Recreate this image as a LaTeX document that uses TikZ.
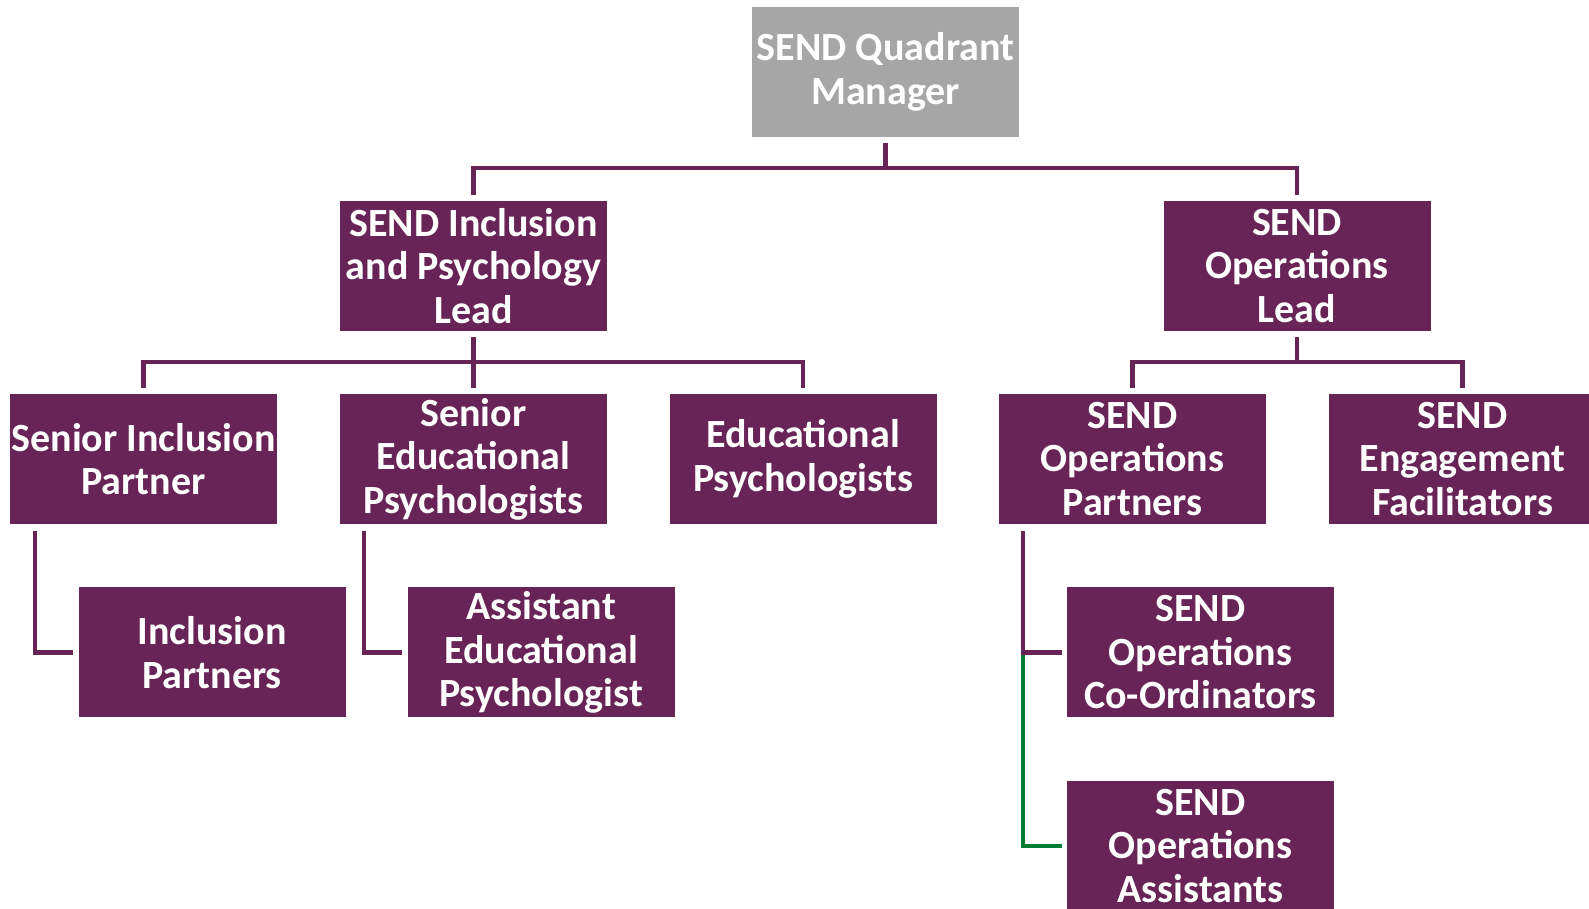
\documentclass[tikz,border=0pt]{standalone}
\usepackage{fontspec}
\setmainfont{Carlito}
\definecolor{plum}{RGB}{104,36,87}
\definecolor{mgrey}{RGB}{166,166,166}
\definecolor{lgreen}{RGB}{0,125,50}
\begin{document}
\begin{tikzpicture}[x=1pt,y=1pt,
  box/.style={rectangle, fill=plum, text=white, minimum width=267pt, minimum height=130pt,
    inner sep=0pt, align=center, font=\fontsize{40}{43.5}\selectfont\bfseries},
  topbox/.style={box, fill=mgrey},
  conn/.style={draw=plum, line width=4.5pt},
  gconn/.style={draw=lgreen, line width=4.5pt}]
\clip (0,0) rectangle (1589,909);
\fill[white] (0,0) rectangle (1589,909);
% nodes
\node[topbox] (top) at (885.5,837) {SEND Quadrant\\Manager};
\node[box] (l2l) at (473.5,643) {SEND Inclusion\\and Psychology\\Lead};
\node[box] (l2r) at (1297,643) {SEND\\Operations\\Lead};
\node[box] (sip) at (143.5,450) {Senior Inclusion\\Partner};
\node[box] (sep) at (473.5,450) {Senior\\Educational\\Psychologists};
\node[box] (ep) at (803,450) {Educational\\Psychologists};
\node[box] (sop) at (1132.5,450) {SEND\\Operations\\Partners};
\node[box] (sef) at (1462.5,450) {SEND\\Engagement\\Facilitators};
\node[box] (ip) at (212,256.5) {Inclusion\\Partners};
\node[box] (aep) at (541,256.5) {Assistant\\Educational\\Psychologist};
\node[box] (soc) at (1200.5,256.5) {SEND\\Operations\\Co-Ordinators};
\node[box] (soa) at (1200.5,63) {SEND\\Operations\\Assistants};
% connectors
\draw[conn] ([yshift=-6pt]top.south) -- ++(0,-25) -| ([yshift=6pt]l2l.north);
\draw[conn] ([yshift=-31pt]top.south) -| ([yshift=6pt]l2r.north);
\draw[conn] ([yshift=-6pt]l2l.south) -- ++(0,-25) -| ([yshift=6pt]sip.north);
\draw[conn] ([yshift=-6pt]l2l.south) -- ([yshift=6pt]sep.north);
\draw[conn] ([yshift=-31pt]l2l.south) -| ([yshift=6pt]ep.north);
\draw[conn] ([yshift=-6pt]l2r.south) -- ++(0,-25) -| ([yshift=6pt]sop.north);
\draw[conn] ([yshift=-31pt]l2r.south) -| ([yshift=6pt]sef.north);
\draw[conn] ([xshift=-108.5pt,yshift=-7pt]sip.south) |- ([xshift=-5pt]ip.west);
\draw[conn] ([xshift=-109.5pt,yshift=-7pt]sep.south) |- ([xshift=-5pt]aep.west);
\draw[gconn] ([xshift=-44pt]soc.west) |- ([xshift=-5pt]soa.west);
\draw[conn] ([xshift=-109.5pt,yshift=-7pt]sop.south) |- ([xshift=-5pt]soc.west);
\end{tikzpicture}
\end{document}
